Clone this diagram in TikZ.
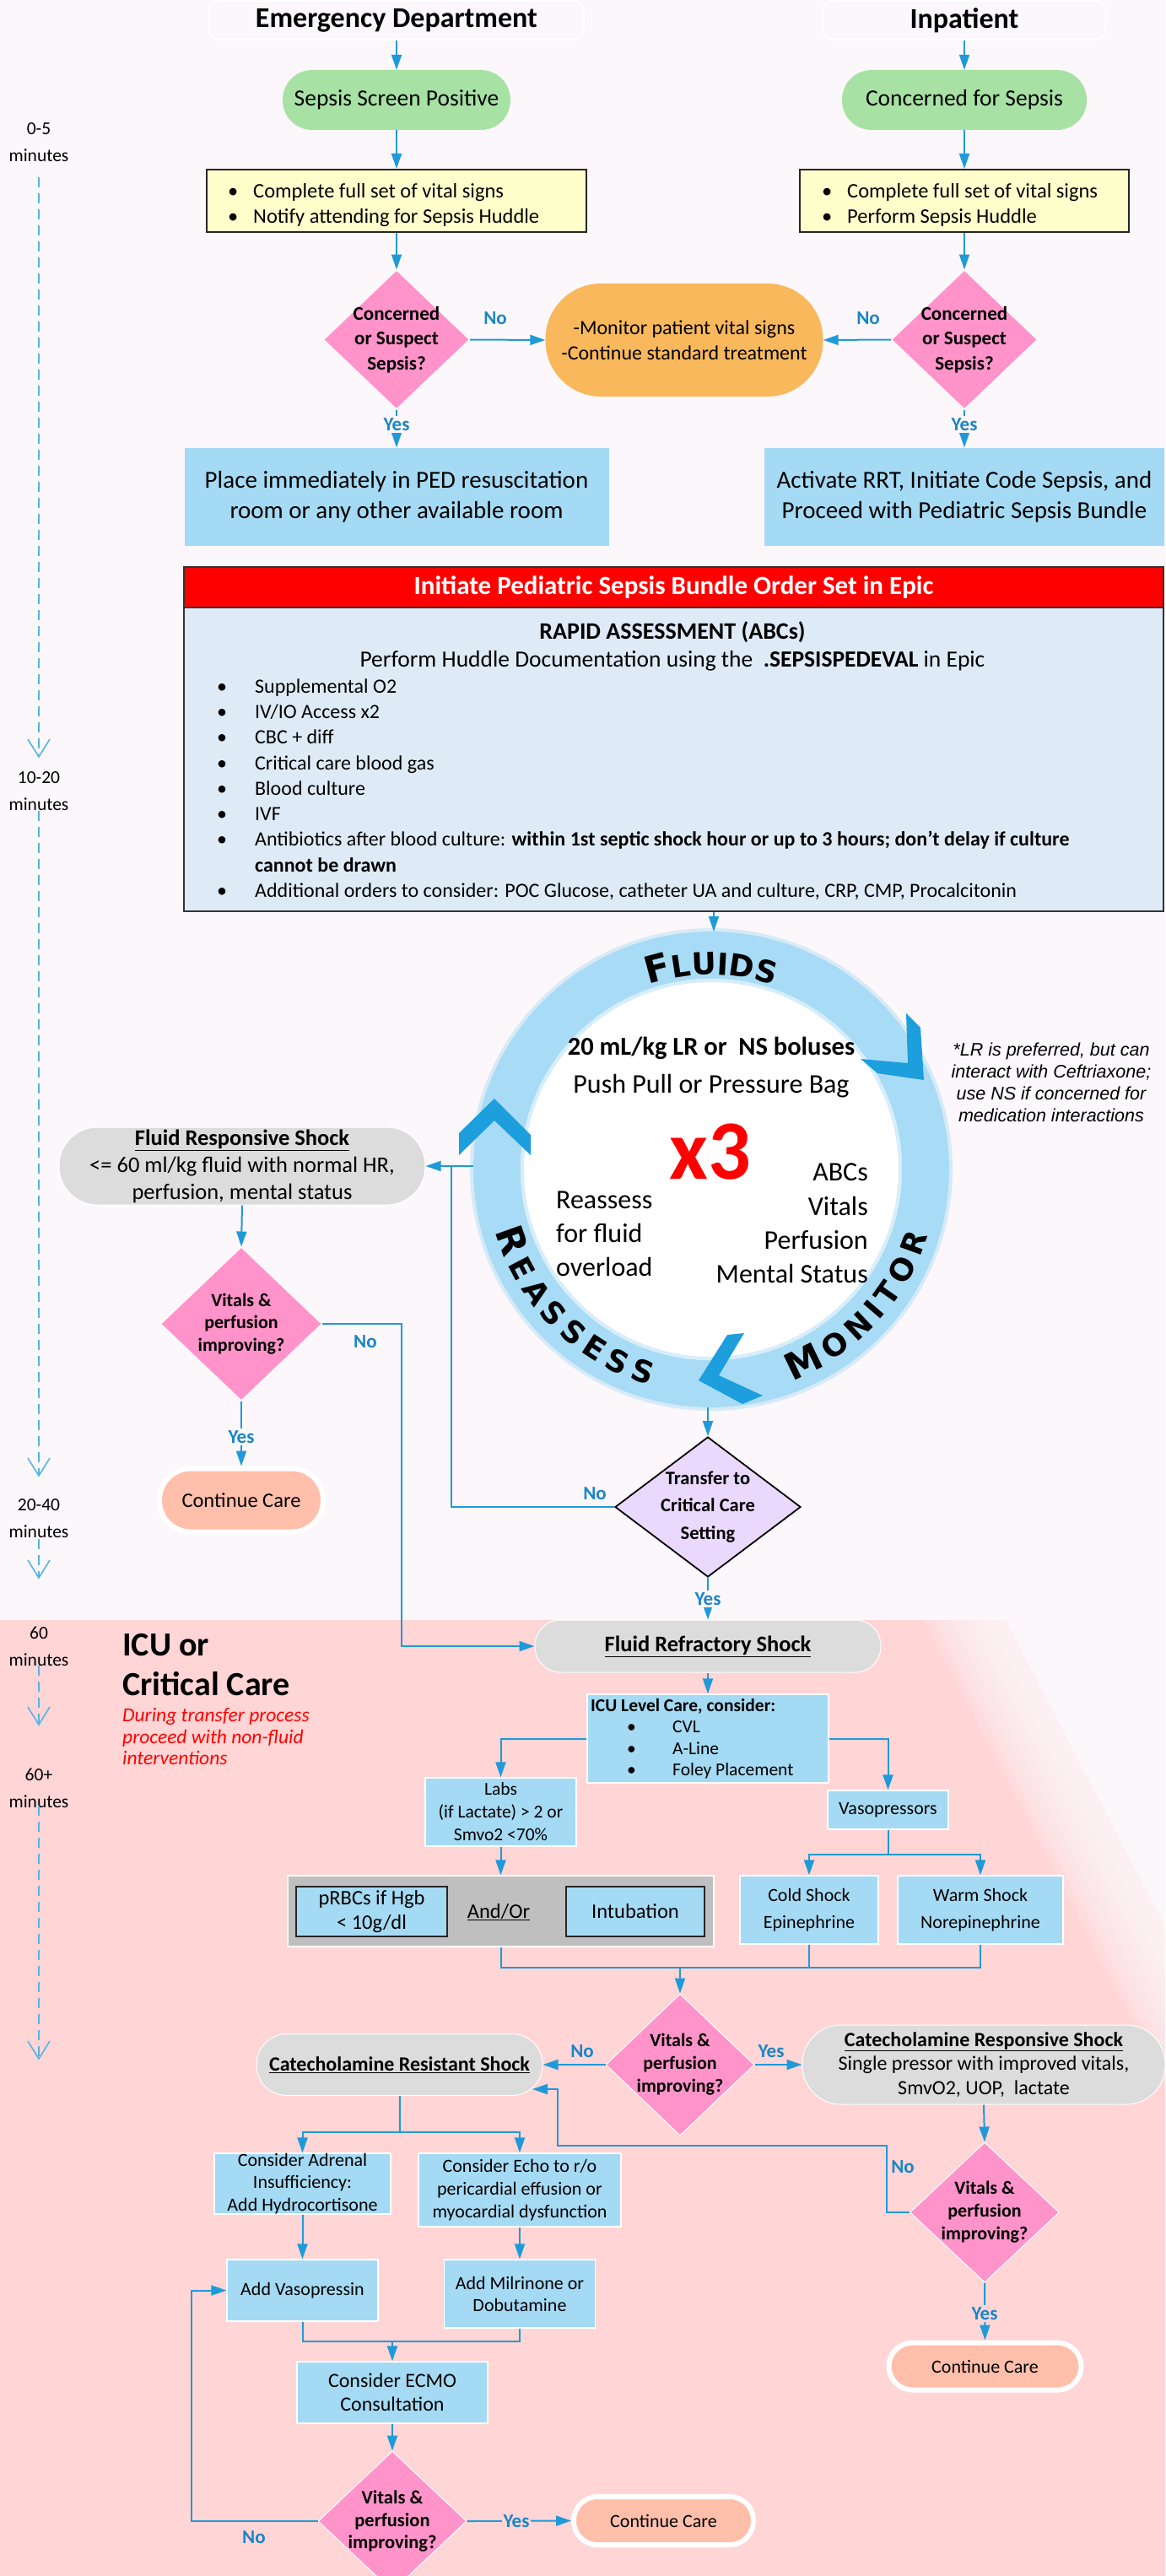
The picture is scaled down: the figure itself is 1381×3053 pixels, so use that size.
\documentclass[tikz,border=0pt]{standalone}
\usepackage{fontspec}
\setmainfont{Carlito}
\newfontfamily\ringfont{DejaVu Sans}
\newfontfamily\notefont{Liberation Sans}
\usetikzlibrary{arrows.meta,shapes.geometric,decorations.text}
\newcommand{\myfs}[2]{\fontsize{#1}{#2}\selectfont}
\newcommand{\rbig}{\ringfont\bfseries\fontsize{44}{44}\selectfont}
\newcommand{\rsmall}{\ringfont\bfseries\fontsize{36}{36}\selectfont}
\newcommand{\bul}[1]{\makebox[#1][l]{\textbullet}}
\definecolor{bgc}{HTML}{FCF7FA}
\definecolor{pinkbg}{HTML}{FFD5D6}
\definecolor{cblue}{HTML}{1F9AD8}
\definecolor{lblue}{HTML}{1A86C6}
\definecolor{boxblue}{HTML}{A5DAF4}
\definecolor{greenc}{HTML}{A7E2A4}
\definecolor{yellowc}{HTML}{FFFFCC}
\definecolor{pinkd}{HTML}{FF93CA}
\definecolor{orangec}{HTML}{F9B85C}
\definecolor{grayc}{HTML}{DCDCDC}
\definecolor{peach}{HTML}{FFBFAA}
\definecolor{lav}{HTML}{EAD9FC}
\definecolor{bodyblue}{HTML}{DEEBF7}
\definecolor{ringc}{HTML}{A8DBF5}
\definecolor{chev}{HTML}{1D9EDD}
\definecolor{tline}{HTML}{55B3E6}
\definecolor{graybox}{HTML}{BFBFBF}
\begin{document}
\begin{tikzpicture}[x=1pt,y=-1pt,
  conn/.style={draw=cblue, line width=2pt},
  arr/.style={draw=cblue, line width=2pt, -{Triangle[length=18pt,width=12pt]}},
  yn/.style={font=\myfs{23}{26}\bfseries, text=lblue, inner sep=2pt},
  dia/.style={diamond, fill=pinkd, draw=white, line width=1pt, inner sep=0pt},
  dtxt/.style={font=\myfs{22}{26.5}\bfseries, align=center, inner sep=0pt},
  bbox/.style={rectangle, fill=boxblue, draw=white, line width=1.2pt, inner sep=0pt, align=center, font=\myfs{22}{27}},
  gstad/.style={rectangle, fill=grayc, draw=white, line width=1pt, inner sep=0pt, align=center},
  ccare/.style={rectangle, fill=peach, draw=white, line width=6pt, inner sep=0pt, font=\myfs{22}{26}},
  hd/.style={rectangle, rounded corners=12, draw=white, line width=2pt, inner sep=0pt, font=\myfs{34}{40}\bfseries},
  grn/.style={rectangle, rounded corners=35, fill=greenc, inner sep=0pt, font=\myfs{27.5}{32}},
  ybox/.style={rectangle, fill=yellowc, draw=black!85, line width=2pt, inner sep=0pt},
  ytxt/.style={anchor=base west, inner sep=0pt, font=\myfs{24.5}{28}},
  ltxt/.style={anchor=base west, inner sep=0pt, font=\myfs{24}{28}},
  tlab/.style={font=\myfs{21.5}{32}, align=center, inner sep=0pt},
  tl/.style={draw=tline, line width=2.5pt, dash pattern=on 12pt off 7pt},
  tv/.style={draw=tline, line width=1.6pt},
  chv/.style={fill=chev},
]
\useasboundingbox (0,0) rectangle (1381,3053);
\fill[bgc] (0,0) rectangle (1381,3053);
\fill[pinkbg] (0,1920) rectangle (1381,3053);
\foreach \k in {0,...,7} {
  \fill[bgc, opacity=0.22] ({1095+11*\k},1920) -- (1381,1920) -- (1381,{1920+(286-11*\k)/0.52}) -- cycle;
}
\fill[bgc] (1192,1920) -- (1381,1920) -- (1381,{1920+189/0.52}) -- cycle;

% ---------- timeline ----------
\node[tlab] (t1) at (46,169) {0-5\\minutes};
\node[tlab] (t2) at (46,937.5) {10-20\\minutes};
\node[tlab] (t3) at (46,1799.5) {20-40\\minutes};
\node[tlab] (t4) at (46,1951) {60\\minutes};
\node[tlab] (t5) at (46,2119) {60+\\minutes};
\coordinate (ta1) at (46,210); \coordinate (tb1) at (46,897);
\coordinate (ta2) at (46,961); \coordinate (tb2) at (46,1749);
\coordinate (ta3) at (46,1824); \coordinate (tb3) at (46,1870);
\coordinate (ta4) at (46,1974); \coordinate (tb4) at (46,2044);
\coordinate (ta5) at (46,2140); \coordinate (tb5) at (46,2440);
\foreach \i in {1,...,5} {
  \draw[tl] (ta\i) -- (tb\i);
  \draw[tv] ([shift={(-13,-21)}]tb\i) -- (tb\i) -- ([shift={(13,-21)}]tb\i);
}

% ---------- top ----------
\node[hd, minimum width=444, minimum height=46] (hED) at (470,24) {Emergency Department};
\node[hd, minimum width=335, minimum height=46] (hIn) at (1143,24) {Inpatient};
\node[grn, minimum width=270, minimum height=71] (gED) at (470,118.5) {Sepsis Screen Positive};
\node[grn, minimum width=290, minimum height=71] (gIn) at (1143,118.5) {Concerned for Sepsis};
\node[ybox, minimum width=450, minimum height=74] (yED) at (470,238) {};
\node[ytxt] (yED1) at (270,235) {\bul{30pt}Complete full set of vital signs};
\node[ytxt] (yED2) at (270,265) {\bul{30pt}Notify attending for Sepsis Huddle};
\node[ybox, minimum width=390, minimum height=74] (yIn) at (1143,238) {};
\node[ytxt] (yIn1) at (974,235) {\bul{30pt}Complete full set of vital signs};
\node[ytxt] (yIn2) at (974,265) {\bul{30pt}Perform Sepsis Huddle};
\node[dia, minimum width=173, minimum height=165] (dED) at (470,402.5) {};
\node[dtxt, font=\myfs{23}{29.5}\bfseries] (dEDt) at (dED.center) {Concerned\\or Suspect\\Sepsis?};
\node[dia, minimum width=173, minimum height=165] (dIn) at (1143,402.5) {};
\node[dtxt, font=\myfs{23}{29.5}\bfseries] (dInt) at (dIn.center) {Concerned\\or Suspect\\Sepsis?};
\node[rectangle, rounded corners=66, fill=orangec, minimum width=329, minimum height=134, inner sep=0pt, align=center, font=\myfs{24}{30}] (org) at (811,403) {-Monitor patient vital signs\\-Continue standard treatment};
\node[bbox, draw=none, minimum width=503, minimum height=116, font=\myfs{29}{36}] (bED) at (470,589) {Place immediately in PED resuscitation\\room or any other available room};
\node[bbox, draw=none, minimum width=474, minimum height=116, font=\myfs{29}{36}] (bIn) at (1143,589) {Activate RRT, Initiate Code Sepsis, and\\Proceed with Pediatric Sepsis Bundle};

\draw[arr] (hED.south) -- (gED.north);
\draw[arr] (hIn.south) -- (gIn.north);
\draw[arr] (gED.south) -- (yED.north);
\draw[arr] (gIn.south) -- (yIn.north);
\draw[arr] (yED.south) -- (dED.north);
\draw[arr] (yIn.south) -- (dIn.north);
\draw[arr] (dED.east) -- (org.west);
\draw[arr] (dIn.west) -- (org.east);
\node[yn] (no1) at (587,377) {No};
\node[yn] (no2) at (1029,377) {No};
\draw[arr] (dED.south) -- (bED.north);
\draw[arr] (dIn.south) -- (bIn.north);
\node[yn, fill=bgc] (yes1) at (470,503) {Yes};
\node[yn, fill=bgc] (yes2) at (1143,503) {Yes};

% ---------- bundle ----------
\node[rectangle, fill=red, draw=black!80, line width=1.5pt, minimum width=1161, minimum height=48, inner sep=0pt, font=\myfs{31}{36}\bfseries, text=white] (hdr) at (798.5,696) {Initiate Pediatric Sepsis Bundle Order Set in Epic};
\node[rectangle, fill=bodyblue, draw=black!80, line width=1.5pt, minimum width=1161, minimum height=360, inner sep=0pt] (body) at (798.5,900) {};
\node[font=\myfs{28}{32}\bfseries, inner sep=0pt] (rapid) at (797,749) {RAPID ASSESSMENT (ABCs)};
\node[font=\myfs{27.5}{32}, inner sep=0pt] (perf) at (797,783) {Perform Huddle Documentation using the\ \ \textbf{.SEPSISPEDEVAL} in Epic};
\node[ltxt] (l1) at (257,821) {\bul{45pt}Supplemental O2};
\node[ltxt] (l2) at (257,851) {\bul{45pt}IV/IO Access x2};
\node[ltxt] (l3) at (257,881) {\bul{45pt}CBC + diff};
\node[ltxt] (l4) at (257,912) {\bul{45pt}Critical care blood gas};
\node[ltxt] (l5) at (257,942) {\bul{45pt}Blood culture};
\node[ltxt] (l6) at (257,972) {\bul{45pt}IVF};
\node[ltxt] (l7) at (257,1002) {\bul{45pt}Antibiotics after blood culture: \textbf{within 1st septic shock hour or up to 3 hours; don't delay if culture}};
\node[ltxt] (l7b) at (302,1033) {\textbf{cannot be drawn}};
\node[ltxt] (l8) at (257,1063) {\bul{45pt}Additional orders to consider: POC Glucose, catheter UA and culture, CRP, CMP, Procalcitonin};

% ---------- ring ----------
\begin{scope}[shift={(843,1386)}, y=1pt]
  \fill[ringc, even odd rule] (0,0) circle[radius=282] (0,0) circle[radius=226];
  \draw[ringc, opacity=0.45, line width=4pt] (0,0) circle[radius=284];
  \fill[white] (0,0) circle[radius=226];
  \draw[ringc, opacity=0.45, line width=4pt] (0,0) circle[radius=224];
  \path[decorate, decoration={text along path, text={|\rbig|F|\rsmall|LUIDS}, text align=center}]
    (112:231) arc[start angle=112, end angle=68, radius=231];
  \path[decorate, decoration={text along path, text={|\rbig|M|\rsmall|ONITOR}, text align=fit to path}]
    (-69:268) arc[start angle=-69, end angle=-17, radius=268];
  \path[decorate, decoration={text along path, text={|\rbig|R|\rsmall|EASSESS}, text align=fit to path}]
    (196:266) arc[start angle=196, end angle=254, radius=266];
\end{scope}
\coordinate (ringtop) at (846,1104);
\coordinate (ringbot) at (839,1668);
\coordinate (ringleft) at (561,1382);
\fill[chv] (1074,1201) -- (1091,1218) -- (1095,1280) -- (1040,1272) -- (1020,1255) -- (1076,1260) -- cycle;
\fill[chv] (586,1302) -- (629,1345) -- (629,1369) -- (586,1328) -- (544,1369) -- (544,1343) -- cycle;
\fill[chv] (828,1636) -- (862,1582) -- (882,1580) -- (852,1630) -- (904,1654) -- (880,1664) -- cycle;
\draw[arr] (body.south -| ringtop) -- (ringtop);

\node[font=\myfs{30.5}{34}\bfseries, inner sep=0pt] (bolus) at (843,1242) {20 mL/kg LR or\ \ NS boluses};
\node[font=\myfs{32}{36}, inner sep=0pt] (push) at (843,1287) {Push Pull or Pressure Bag};
\node[font=\myfs{100}{100}\bfseries, text=red, inner sep=0pt] (x3) at (842,1365) {x3};
\node[font=\myfs{32}{40.3}, align=right, anchor=east, inner sep=0pt] (abcs) at (1029,1450) {ABCs\\Vitals\\Perfusion\\Mental Status};
\node[font=\myfs{32}{40}, align=left, anchor=west, inner sep=0pt] (reass) at (659,1462) {Reassess\\for fluid\\overload};
\node[font=\notefont\itshape\myfs{21.5}{26}, align=center, inner sep=0pt] (note) at (1246,1283) {*LR is preferred, but can\\interact with Ceftriaxone;\\use NS if concerned for\\medication interactions};

% ---------- fluid responsive ----------
\node[gstad, rounded corners=45.5, minimum width=434, minimum height=92, font=\myfs{26.5}{32}] (frs) at (287,1382) {\textbf{\underline{Fluid Responsive Shock}}\\<= 60 ml/kg fluid with normal HR,\\perfusion, mental status};
\node[dia, minimum width=191, minimum height=182] (dFR) at (286,1569) {};
\node[dtxt, font=\myfs{22}{26.5}\bfseries] (dFRt) at (dFR.center) {Vitals \&\\perfusion\\improving?};
\node[ccare, rounded corners=37, minimum width=194, minimum height=75, font=\myfs{24.5}{28}] (ccL) at (286,1778) {Continue Care};
\node[diamond, fill=lav, draw=black, line width=1.8pt, minimum width=220, minimum height=166, inner sep=0pt] (tr) at (839,1786) {};
\node[dtxt, font=\myfs{22.5}{32.5}\bfseries] (trt) at (tr.center) {Transfer to\\Critical Care\\Setting};

\coordinate (j1) at (535,1382);
\coordinate (jx) at (476,1700);
\draw[arr] (ringleft) -- (frs.east);
\draw[conn] (tr.west) -| (j1);
\node[yn] (no3) at (705,1770) {No};
\draw[arr] (frs.south) -- (dFR.north);
\draw[arr] (dFR.south) -- (ccL.north);
\node[yn, fill=bgc] (yes3) at (286,1703) {Yes};
\draw[arr] (ringbot) -- (tr.north);

% ---------- ICU ----------
\node[font=\myfs{40}{47}\bfseries, anchor=base west, inner sep=0pt] (icu1) at (145,1962) {ICU or};
\node[font=\myfs{40}{47}\bfseries, anchor=base west, inner sep=0pt] (icu2) at (145,2009) {Critical Care};
\node[font=\myfs{23.5}{25.5}\itshape, text=red, anchor=base west, inner sep=0pt] (r1) at (145,2040) {During transfer process};
\node[font=\myfs{23.5}{25.5}\itshape, text=red, anchor=base west, inner sep=0pt] (r2) at (145,2066) {proceed with non-fluid};
\node[font=\myfs{23.5}{25.5}\itshape, text=red, anchor=base west, inner sep=0pt] (r3) at (145,2091) {interventions};

\node[gstad, rounded corners=30.5, minimum width=410, minimum height=62, font=\myfs{26.5}{30}] (refr) at (839,1951) {\textbf{\underline{Fluid Refractory Shock}}};
\draw[arr] (tr.south) -- (refr.north);
\node[yn, fill=bgc] (yes4) at (839,1895) {Yes};
\draw[arr] (dFR.east) -| (jx) |- (refr.west);
\node[yn] (no4) at (433,1590) {No};

\node[bbox, minimum width=286, minimum height=105] (icu) at (839,2060.5) {};
\node[ltxt, font=\myfs{21.5}{26}\bfseries] (icut) at (700,2028) {ICU Level Care, consider:};
\node[ltxt, font=\myfs{21.5}{26}] (icu3) at (743,2053) {\bul{54pt}CVL};
\node[ltxt, font=\myfs{21.5}{26}] (icu4) at (743,2079) {\bul{54pt}A-Line};
\node[ltxt, font=\myfs{21.5}{26}] (icu5) at (743,2104) {\bul{54pt}Foley Placement};
\draw[arr] (refr.south) -- (icu.north);

\node[bbox, minimum width=179, minimum height=81, font=\myfs{21.5}{27}] (labs) at (593.5,2147.5) {Labs\\(if Lactate) > 2 or\\Smvo2 <70\%};
\node[bbox, minimum width=143, minimum height=46] (vaso) at (1052.5,2145) {Vasopressors};
\node[bbox, minimum width=164, minimum height=81, font=\myfs{22}{32}] (cold) at (959,2263.5) {Cold Shock\\Epinephrine};
\node[bbox, minimum width=196, minimum height=81, font=\myfs{22}{32}] (warm) at (1162,2263.5) {Warm Shock\\Norepinephrine};
\node[rectangle, fill=graybox, draw=white, line width=1.2pt, minimum width=505, minimum height=84, inner sep=0pt] (gray) at (593.5,2265) {};
\node[rectangle, fill=boxblue, draw=black!85, line width=2pt, minimum width=179, minimum height=59, inner sep=0pt, align=center, font=\myfs{24.5}{29}] (prbc) at (440.5,2265.5) {pRBCs if Hgb\\< 10g/dl};
\node[font=\myfs{24.5}{28}, inner sep=0pt] (andor) at (591,2266) {\underline{And/Or}};
\node[rectangle, fill=boxblue, draw=black!85, line width=2pt, minimum width=164, minimum height=59, inner sep=0pt, font=\myfs{24.5}{28}] (intub) at (753,2265.5) {Intubation};

\coordinate (vj) at (1052.5,2198);
\coordinate (bj) at (806,2332);
\draw[arr] (icu.west) -| (labs.north);
\draw[arr] (icu.east) -| (vaso.north);
\draw[arr] (labs.south) -- (gray.north);
\draw[conn] (vaso.south) -- (vj);
\draw[arr] (vj) -| (cold.north);
\draw[arr] (vj) -| (warm.north);
\draw[conn] (gray.south) |- (bj);
\draw[conn] (cold.south) |- (bj);
\draw[conn] (warm.south) |- (bj);

\node[dia, minimum width=176, minimum height=168] (dC) at (806,2447) {};
\node[dtxt, font=\myfs{22}{27}\bfseries] (dCt) at (dC.center) {Vitals \&\\perfusion\\improving?};
\draw[arr] (bj) -- (dC.north);
\node[gstad, rounded corners=36, minimum width=339, minimum height=73, font=\myfs{24}{28}] (cres) at (473.5,2447) {\textbf{\underline{Catecholamine Resistant Shock}}};
\node[gstad, rounded corners=46, minimum width=430, minimum height=94, font=\myfs{24}{28.5}] (cresp) at (1166,2447) {\textbf{\underline{Catecholamine Responsive Shock}}\\Single pressor with improved vitals,\\SmvO2, UOP,\ \ lactate};
\draw[arr] (dC.west) -- (cres.east);
\draw[arr] (dC.east) -- (cresp.west);
\node[yn] (no5) at (690,2431) {No};
\node[yn] (yes5) at (914,2431) {Yes};

\node[dia, minimum width=177, minimum height=166] (dR) at (1167,2622) {};
\node[dtxt, font=\myfs{22}{27}\bfseries] (dRt) at (dR.center) {Vitals \&\\perfusion\\improving?};
\draw[arr] (cresp.south) -- (dR.north);
\node[ccare, rounded corners=28, minimum width=228, minimum height=56] (ccR) at (1167.5,2804.5) {Continue Care};
\draw[arr] (dR.south) -- (ccR.north);
\node[yn, fill=pinkbg] (yes6) at (1167,2742) {Yes};
\coordinate (rj1) at (1051,2543);
\coordinate (rj2) at (661,2476);
\coordinate (cresIn) at (631,2476);
\draw[arr] (dR.west) -| (rj1) -| (rj2) -- (cresIn);
\node[yn] (no6) at (1070,2568) {No};

\node[bbox, minimum width=209, minimum height=72, font=\myfs{22}{26.5}] (adr) at (358.5,2588) {Consider Adrenal\\Insufficiency:\\Add Hydrocortisone};
\node[bbox, minimum width=240, minimum height=87, font=\myfs{22}{27}] (echo) at (616,2595.5) {Consider Echo to r/o\\pericardial effusion or\\myocardial dysfunction};
\coordinate (cj) at (473.5,2527);
\draw[conn] (cres.south) -- (cj);
\draw[arr] (cj) -| (adr.north);
\draw[arr] (cj) -| (echo.north);
\node[bbox, minimum width=179, minimum height=73] (vaso2) at (358.5,2714.5) {Add Vasopressin};
\node[bbox, minimum width=179, minimum height=81, font=\myfs{22}{26}] (mil) at (616,2718.5) {Add Milrinone or\\Dobutamine};
\draw[arr] (adr.south) -- (vaso2.north);
\draw[arr] (echo.south) -- (mil.north);
\coordinate (ej) at (465,2775);
\draw[conn] (vaso2.south) |- (ej);
\draw[conn] (mil.south) |- (ej);
\node[bbox, minimum width=226, minimum height=73, font=\myfs{24}{28}] (ecmo) at (465,2835.5) {Consider ECMO\\Consultation};
\draw[arr] (ej) -- (ecmo.north);
\node[dia, minimum width=176, minimum height=166] (dB) at (465,2988) {};
\node[dtxt, font=\myfs{22.5}{26.5}\bfseries] (dBt) at (dB.center) {Vitals \&\\perfusion\\improving?};
\draw[arr] (ecmo.south) -- (dB.north);
\node[ccare, rounded corners=28, minimum width=213, minimum height=57] (ccB) at (786.5,2987.5) {Continue Care};
\draw[arr] (dB.east) -- (ccB.west);
\node[yn, fill=pinkbg] (yes7) at (612,2988) {Yes};
\coordinate (bl) at (227,2850);
\draw[arr] (dB.west) -| (bl) |- (vaso2.west);
\node[yn] (no7) at (301,3007) {No};
\end{tikzpicture}
\end{document}
